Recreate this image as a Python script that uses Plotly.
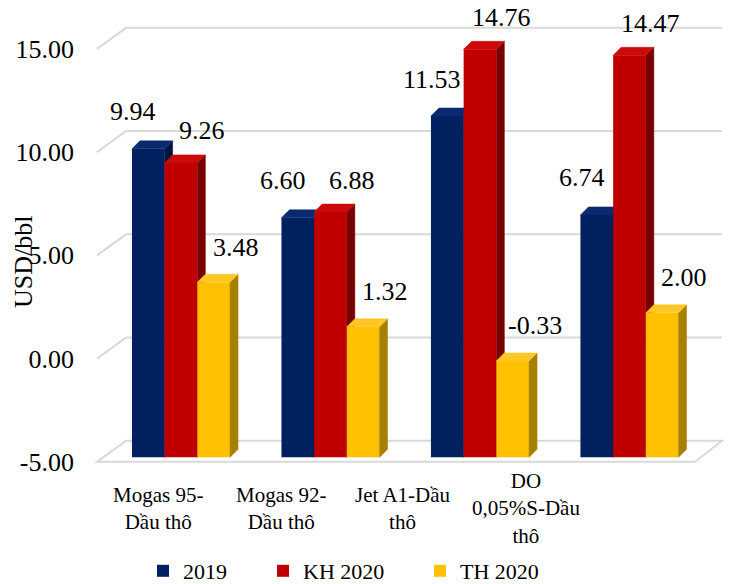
import plotly.graph_objects as go

# ---------------- data ----------------
categories = ["Mogas 95-<br>Dầu thô", "Mogas 92-<br>Dầu thô",
              "Jet A1-Dầu<br>thô", "DO<br>0,05%S-Dầu<br>thô"]
series_names = ["2019", "KH 2020", "TH 2020"]
v2019 = [9.94, 6.60, 11.53, 6.74]
vkh2020 = [9.26, 6.88, 14.76, 14.47]
vth2020 = [3.48, 1.32, -0.33, 2.00]
y_ticks = [-5, 0, 5, 10, 15]
y_title = "USD/bbl"

series_values = [v2019, vkh2020, vth2020]

# ---------------- styling / layout constants ----------------
W, H = 731, 584
PL, PR, PT, PB = 97, 725, 28, 482          # plot area in pixels
Y0PX, YSCALE = 358.6, 20.65                 # front plane: pixel of 0, px per unit
FLOOR = y_ticks[0]
BAR_C0, BAR_STEP = 181, 149.5               # bar group centres (px)
BAR_LIFT = 4.5                              # bars sit a little behind the front plane
BW = 32.7 / BAR_STEP                        # bar width (category units)
DEPTH_X, DEPTH_Y = 8 / BAR_STEP, 8 / YSCALE  # bar depth
WALL_DX, WALL_DY = 29, 21                   # wall depth in px
WALL_RIGHT, FLOOR_FRONT_RIGHT = 722, 695
LABEL_C0, LABEL_STEP, LABEL_Y = 158, 122.7, 509
FONT = "Liberation Serif"
GRID = "#d9d9d9"

front_cols = ["#002060", "#c00000", "#ffc000"]
top_cols = ["#0a2a70", "#cc0a0a", "#ffc726"]
side_cols = ["#00143f", "#780000", "#a88000"]
label_shift = [(-15, 37), (21, 32), (22, 35)]
legend_x_px = [143, 263, 420]
LEGEND_Y = 571


def px_x(px):
    return (px - PL) / (PR - PL)


def px_y(py):
    return (PB - py) / (PB - PT)


def front_py(v):
    return Y0PX - YSCALE * v


y_front_range = [(Y0PX - PB) / YSCALE, (Y0PX - PT) / YSCALE]
lift = BAR_LIFT / YSCALE
y_bar_range = [y_front_range[0] - lift, y_front_range[1] - lift]
x_bar_range = [(PL - BAR_C0) / BAR_STEP, (PR - BAR_C0) / BAR_STEP]

fig = go.Figure()
# empty trace so the main (tick-label) subplot is created
fig.add_trace(go.Scatter(x=[], y=[], showlegend=False, hoverinfo="skip"))

annotations = []
offsets = [-1.5 * BW + j * BW for j in range(3)]
xs = list(range(len(categories)))

for j, (name, vals) in enumerate(zip(series_names, series_values)):
    ax = str(j + 2)
    xa, ya = "x" + ax, "y" + ax
    leg = "legend" if j == 0 else "legend" + str(j + 1)
    fig.add_trace(go.Bar(
        x=xs, y=[v - FLOOR for v in vals], base=FLOOR,
        width=BW, offset=offsets[j], name=name,
        marker=dict(color=front_cols[j], line=dict(width=0)),
        xaxis=xa, yaxis=ya, legend=leg,
        customdata=vals, hovertemplate="%{customdata:.2f}<extra>" + name + "</extra>",
    ))
    tx, ty, sx, sy = [], [], [], []
    for i, v in enumerate(vals):
        xl = i + offsets[j]
        xr = xl + BW
        tx += [xl, xr, xr + DEPTH_X, xl + DEPTH_X, xl, None]
        ty += [v, v, v + DEPTH_Y, v + DEPTH_Y, v, None]
        sx += [xr, xr, xr + DEPTH_X, xr + DEPTH_X, xr, None]
        sy += [FLOOR, v, v + DEPTH_Y, FLOOR + DEPTH_Y, FLOOR, None]
        annotations.append(dict(
            x=xl + BW / 2, y=v, xref=xa, yref=ya, text=f"{v:.2f}",
            showarrow=False, xshift=label_shift[j][0], yshift=label_shift[j][1],
            font=dict(family=FONT, size=26, color="black"),
            xanchor="center", yanchor="middle"))
    fig.add_trace(go.Scatter(x=sx, y=sy, fill="toself", mode="lines",
                             fillcolor=side_cols[j],
                             line=dict(color=side_cols[j], width=0.5),
                             xaxis=xa, yaxis=ya, showlegend=False, hoverinfo="skip"))
    fig.add_trace(go.Scatter(x=tx, y=ty, fill="toself", mode="lines",
                             fillcolor=top_cols[j],
                             line=dict(color=top_cols[j], width=0.5),
                             xaxis=xa, yaxis=ya, showlegend=False, hoverinfo="skip"))

# ---------------- walls, floor and gridlines ----------------
shapes = []
f_py = front_py(FLOOR)
floor_path = (f"M {px_x(PL)},{px_y(f_py)} L {px_x(FLOOR_FRONT_RIGHT)},{px_y(f_py)} "
              f"L {px_x(WALL_RIGHT)},{px_y(f_py - WALL_DY)} "
              f"L {px_x(PL + WALL_DX)},{px_y(f_py - WALL_DY)} Z")
shapes.append(dict(type="path", path=floor_path, xref="paper", yref="paper",
                   fillcolor="white", line=dict(color=GRID, width=2), layer="below"))
for v in y_ticks[1:]:
    py = front_py(v)
    p = (f"M {px_x(PL)},{px_y(py)} L {px_x(PL + WALL_DX)},{px_y(py - WALL_DY)} "
         f"L {px_x(WALL_RIGHT)},{px_y(py - WALL_DY)}")
    shapes.append(dict(type="path", path=p, xref="paper", yref="paper",
                       line=dict(color=GRID, width=2), layer="below"))

# ---------------- category labels and axis title ----------------
for i, c in enumerate(categories):
    annotations.append(dict(
        x=px_x(LABEL_C0 + LABEL_STEP * i), y=px_y(LABEL_Y), xref="paper", yref="paper",
        text=c, showarrow=False, xanchor="center", yanchor="middle", align="center",
        font=dict(family=FONT, size=21, color="black")))
annotations.append(dict(
    x=px_x(23), y=px_y(262), xref="paper", yref="paper", text=y_title, textangle=-90,
    showarrow=False, xanchor="center", yanchor="middle",
    font=dict(family=FONT, size=26, color="black")))

layout = dict(
    width=W, height=H,
    margin=dict(l=PL, r=W - PR, t=PT, b=H - PB, autoexpand=False),
    paper_bgcolor="white", plot_bgcolor="rgba(0,0,0,0)",
    font=dict(family=FONT, color="black"),
    xaxis=dict(range=x_bar_range, visible=False, fixedrange=True),
    yaxis=dict(range=y_front_range, tickvals=y_ticks,
               ticktext=[f"{t:.2f}" for t in y_ticks],
               showgrid=False, zeroline=False, showline=False, ticks="",
               ticklabelstandoff=22, tickfont=dict(family=FONT, size=26, color="black")),
    shapes=shapes, annotations=annotations,
    showlegend=True, hovermode="closest",
)
for j in range(3):
    ax = str(j + 2)
    layout["xaxis" + ax] = dict(range=x_bar_range, overlaying="x", visible=False,
                                anchor="y" + ax)
    layout["yaxis" + ax] = dict(range=y_bar_range, overlaying="y", visible=False,
                                anchor="x" + ax)
    leg = "legend" if j == 0 else "legend" + str(j + 1)
    layout[leg] = dict(x=px_x(legend_x_px[j]), y=px_y(LEGEND_Y), xanchor="left",
                       yanchor="middle", orientation="h", bgcolor="rgba(0,0,0,0)",
                       font=dict(family=FONT, size=22, color="black"),
                       itemwidth=30)

fig.update_layout(**layout)
fig.write_html("out.html")
